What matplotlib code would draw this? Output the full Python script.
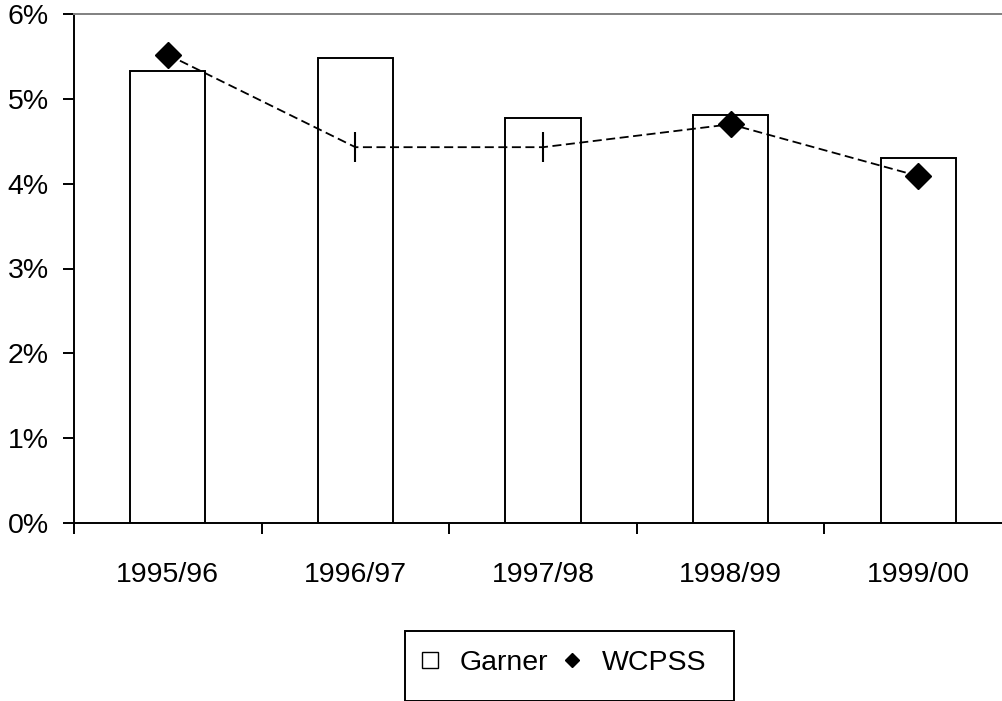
import numpy as np
import matplotlib.pyplot as plt
from matplotlib.patches import Rectangle
from matplotlib.lines import Line2D
from matplotlib.ticker import FuncFormatter

plt.rcParams['font.family'] = ['Liberation Sans', 'DejaVu Sans']

years = ['1995/96', '1996/97', '1997/98', '1998/99', '1999/00']
garner = [5.33, 5.48, 4.77, 4.81, 4.30]
wcpss = [5.52, 4.43, 4.43, 4.70, 4.09]
wcpss_marker = ['D', '|', '|', 'D', 'D']

fig = plt.figure(figsize=(10.02, 7.01), dpi=100)
W, H = 1002.0, 701.0
ax = fig.add_axes([74 / W, 1 - 523 / H, (1012 - 74) / W, (523 - 14) / H])

x = np.arange(len(years))
ax.bar(x, garner, width=0.4, color='white', edgecolor='black', linewidth=1.4, zorder=2)
ax.plot(x, wcpss, color='black', linestyle=(0, (5, 2.5)), linewidth=1.3, zorder=3)
for xi, yi, m in zip(x, wcpss, wcpss_marker):
    if m == 'D':
        ax.plot(xi, yi, marker='D', markersize=13, color='black', zorder=4)
    else:
        ax.plot(xi, yi, marker='|', markersize=21, markeredgewidth=1.5, color='black', zorder=4)

ax.set_xlim(-0.5, len(years) - 0.5)
ax.set_ylim(0, 6)
ax.set_yticks(range(0, 7))
ax.yaxis.set_major_formatter(FuncFormatter(lambda v, p: '%d%%' % v))
ax.set_xticks(x)
ax.set_xticklabels(years)
ax.set_xticks(np.arange(-0.5, len(years)), minor=True)
ax.tick_params(axis='x', which='major', length=0, pad=28, labelsize=20.5)
ax.tick_params(axis='x', which='minor', length=8, width=1.4, direction='out')
ax.tick_params(axis='y', length=8, width=1.4, direction='out', pad=10, labelsize=20.5)

ax.spines['right'].set_visible(False)
ax.spines['top'].set_color('#808080')
ax.spines['top'].set_linewidth(1.4)
ax.spines['left'].set_linewidth(1.4)
ax.spines['bottom'].set_linewidth(1.4)

# legend box
fig.patches.append(Rectangle((405 / W, 0), (734 - 405) / W, (701 - 638) / H + 0.01,
                             transform=fig.transFigure, fill=False,
                             edgecolor='black', linewidth=1.4))
handles = [Line2D([], [], marker='s', linestyle='none', markersize=11.5,
                  markerfacecolor='white', markeredgecolor='black', markeredgewidth=1.0),
           Line2D([], [], marker='D', linestyle='none', markersize=7.5, color='black')]
fig.legend(handles, ['Garner', 'WCPSS'], ncol=2, frameon=False, fontsize=20.5,
           loc='center left', bbox_to_anchor=(390 / W, 1 - 663 / H),
           handlelength=1.0, handletextpad=0.55, columnspacing=0.35)

fig.savefig('out.png', dpi=100)
